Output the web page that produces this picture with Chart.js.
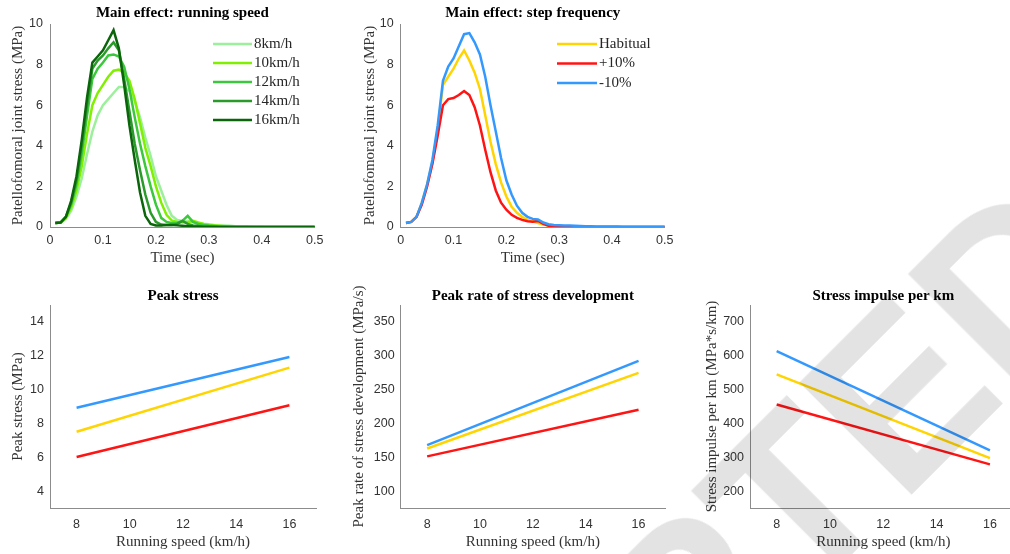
<!DOCTYPE html>
<html>
<head>
<meta charset="utf-8">
<script src="https://cdn.jsdelivr.net/npm/chart.js@4.4.0/dist/chart.umd.min.js"></script>
<style>
  html, body { margin: 0; padding: 0; background: #fff; overflow: hidden; }
  body { width: 1010px; height: 554px; position: relative; }
  .panel { position: absolute; }
  #wm {
    position: absolute; left: 95px; top: 1037px;
    transform-origin: 0 0; transform: rotate(-45deg);
    font: bold 230px "Liberation Sans", Arial, sans-serif; line-height: 1;
    color: rgba(0, 0, 0, 0.11); white-space: nowrap; pointer-events: none; z-index: 5;
  }
</style>
</head>
<body>
<div class="panel" style="left:0;top:0;width:330px;height:270px"><canvas id="chart1"></canvas></div>
<div class="panel" style="left:340px;top:0;width:340px;height:270px"><canvas id="chart2"></canvas></div>
<div class="panel" style="left:0;top:280px;width:330px;height:274px"><canvas id="chart3"></canvas></div>
<div class="panel" style="left:340px;top:280px;width:340px;height:274px"><canvas id="chart4"></canvas></div>
<div class="panel" style="left:680px;top:280px;width:350px;height:274px"><canvas id="chart5"></canvas></div>
<div id="wm">ACCEPTED</div>
<script>
// time samples (sec)
const time = [0.01, 0.02, 0.03, 0.04, 0.05, 0.06, 0.07, 0.08, 0.09, 0.10,
              0.11, 0.12, 0.13, 0.14, 0.15, 0.16, 0.17, 0.18, 0.19, 0.20,
              0.21, 0.22, 0.23, 0.24, 0.25, 0.26, 0.27, 0.28, 0.29, 0.30,
              0.31, 0.32, 0.33, 0.34, 0.35, 0.36, 0.37, 0.38, 0.39, 0.40,
              0.41, 0.42, 0.43, 0.44, 0.45, 0.46, 0.47, 0.48, 0.49, 0.50];

// PFJ stress by running speed (MPa)
const speedLabels = ['8km/h', '10km/h', '12km/h', '14km/h', '16km/h'];
const s8 = [0.2, 0.22, 0.4, 0.8, 1.5, 2.4, 3.6, 4.7, 5.5, 6.0,
            6.3, 6.6, 6.9, 6.9, 6.7, 6.2, 5.4, 4.4, 3.5, 2.5,
            1.8, 1.1, 0.55, 0.35, 0.3, 0.27, 0.24, 0.2, 0.16, 0.13,
            0.1, 0.08, 0.07, 0.06, 0.04, 0.03, 0.02, 0.02, 0.01, 0.01,
            0, 0, 0, 0, 0, 0, 0, 0, 0, 0];
const s10 = [0.2, 0.22, 0.45, 0.95, 1.8, 3.0, 4.6, 6.0, 6.6, 7.0,
             7.4, 7.7, 7.75, 7.6, 7.2, 6.3, 5.1, 3.9, 3.0, 2.0,
             1.2, 0.6, 0.32, 0.25, 0.22, 0.25, 0.3, 0.22, 0.15, 0.1,
             0.08, 0.06, 0.04, 0.03, 0.02, 0.01, 0.01, 0, 0, 0,
             0, 0, 0, 0, 0, 0, 0, 0, 0, 0];
const s12 = [0.2, 0.22, 0.5, 1.1, 2.1, 3.6, 5.5, 7.3, 7.8, 8.1,
             8.45, 8.5, 8.4, 7.9, 6.8, 5.4, 4.1, 3.0, 2.0, 1.1,
             0.45, 0.25, 0.2, 0.2, 0.3, 0.55, 0.25, 0.15, 0.1, 0.07,
             0.05, 0.03, 0.02, 0.01, 0, 0, 0, 0, 0, 0,
             0, 0, 0, 0, 0, 0, 0, 0, 0, 0];
const s14 = [0.2, 0.22, 0.5, 1.2, 2.3, 4.0, 6.0, 7.8, 8.2, 8.45,
             8.8, 9.1, 8.7, 7.3, 5.7, 4.1, 2.8, 1.6, 0.7, 0.25,
             0.12, 0.1, 0.1, 0.15, 0.3, 0.15, 0.08, 0.05, 0.03, 0.02,
             0.01, 0, 0, 0, 0, 0, 0, 0, 0, 0,
             0, 0, 0, 0, 0, 0, 0, 0, 0, 0];
const s16 = [0.2, 0.22, 0.5, 1.3, 2.5, 4.3, 6.4, 8.1, 8.4, 8.7,
             9.2, 9.7, 8.8, 7.0, 5.0, 3.3, 1.7, 0.55, 0.15, 0.08,
             0.08, 0.1, 0.1, 0.08, 0.06, 0.04, 0.02, 0.01, 0, 0,
             0, 0, 0, 0, 0, 0, 0, 0, 0, 0,
             0, 0, 0, 0, 0, 0, 0, 0, 0, 0];

// PFJ stress by step frequency (MPa)
const freqLabels = ['Habitual', '+10%', '-10%'];
const habitual = [0.2, 0.25, 0.5, 1.2, 2.1, 3.2, 4.8, 7.0, 7.4, 7.8,
                  8.3, 8.7, 8.2, 7.6, 6.8, 5.5, 4.2, 3.1, 2.2, 1.5,
                  1.0, 0.7, 0.5, 0.35, 0.28, 0.2, 0.12, 0.06, 0.04, 0.03,
                  0.02, 0.01, 0.01, 0, 0, 0, 0, 0, 0, 0,
                  0, 0, 0, 0, 0, 0, 0, 0, 0, 0];
const plus10 = [0.2, 0.25, 0.5, 1.1, 2.0, 3.1, 4.5, 6.0, 6.3, 6.35,
                6.5, 6.7, 6.5, 5.9, 5.0, 3.8, 2.7, 1.8, 1.2, 0.85,
                0.6, 0.45, 0.35, 0.28, 0.26, 0.3, 0.15, 0.06, 0.03, 0.02,
                0.01, 0, 0, 0, 0, 0, 0, 0, 0, 0,
                0, 0, 0, 0, 0, 0, 0, 0, 0, 0];
const minus10 = [0.2, 0.25, 0.5, 1.2, 2.1, 3.3, 5.0, 7.2, 7.9, 8.3,
                 8.9, 9.5, 9.55, 9.1, 8.5, 7.4, 6.0, 4.7, 3.4, 2.3,
                 1.6, 1.05, 0.7, 0.5, 0.4, 0.37, 0.22, 0.14, 0.1, 0.09,
                 0.08, 0.07, 0.06, 0.05, 0.04, 0.04, 0.03, 0.03, 0.02, 0.02,
                 0.02, 0.01, 0.01, 0.01, 0.01, 0.01, 0.01, 0.01, 0.01, 0.01];

// summary lines vs running speed
const speed = [8, 16];
const speedTicks = [8, 10, 12, 14, 16];
const peakHab = [7.51, 11.3];
const peakP10 = [6.01, 9.07];
const peakM10 = [8.93, 11.93];
const rateHab = [163, 274.6];
const rateP10 = [151.3, 220.3];
const rateM10 = [168, 292.3];
const impHab = [545, 297.6];
const impP10 = [456, 279];
const impM10 = [614, 320];
const peakTicks = [4, 6, 8, 10, 12, 14];
const rateTicks = [100, 150, 200, 250, 300, 350];
const impTicks = [200, 300, 400, 500, 600, 700];

const SERIF = '"Liberation Serif", "Times New Roman", serif';
const SANS = '"Liberation Sans", Arial, sans-serif';
const greens = ['#9cf09c', '#80f000', '#3cc83c', '#2a9a2a', '#0b650b'];
const YEL = '#ffd400', RED = '#ff1414', BLUE = '#3399ff';

function xy(xs, ys) {
    return xs.map((x, i) => ({ x: x, y: ys[i] }));
}

function line(label, xs, ys, color, order) {
    return {
        label: label,
        data: xy(xs, ys),
        borderColor: color,
        backgroundColor: color,
        borderWidth: 2.5,
        pointRadius: 0,
        tension: 0,
        fill: false,
        order: order
    };
}

// legend drawn inside the plot area, MATLAB style
const boxLegend = {
    id: 'boxLegend',
    afterDatasetsDraw(chart, args, opts) {
        const ctx = chart.ctx;
        ctx.save();
        ctx.font = '15px ' + SERIF;
        ctx.textBaseline = 'middle';
        ctx.textAlign = 'left';
        chart.data.datasets.forEach((ds, i) => {
            const y = opts.y + i * opts.dy;
            ctx.strokeStyle = ds.borderColor;
            ctx.lineWidth = 2.5;
            ctx.beginPath();
            ctx.moveTo(opts.x, y);
            ctx.lineTo(opts.x + opts.len, y);
            ctx.stroke();
            ctx.fillStyle = '#262626';
            ctx.fillText(ds.label, opts.x + opts.len + 2, y);
        });
        ctx.restore();
    }
};

function options(o) {
    const fixTicks = list => (list ? s => { s.ticks = list.map(v => ({ value: v })); } : undefined);
    return {
        responsive: true,
        maintainAspectRatio: false,
        animation: false,
        layout: { padding: { left: 0, right: o.padRight, top: 0, bottom: 0 } },
        plugins: {
            legend: { display: false },
            tooltip: { enabled: false },
            title: {
                display: true,
                text: o.title,
                fullSize: false,
                color: '#000',
                font: { family: SERIF, size: 15, weight: 'bold' },
                padding: { top: o.titleTop, bottom: o.titleBottom }
            },
            boxLegend: o.legend
        },
        scales: {
            x: {
                type: 'linear',
                min: o.xMin, max: o.xMax,
                grid: { display: false, drawTicks: false },
                border: { display: true, color: '#8c8c8c', width: 1 },
                ticks: { stepSize: o.xStep, padding: o.xTickPad, color: '#333', font: { family: SANS, size: 12.5 }, maxRotation: 0, autoSkip: false },
                afterBuildTicks: fixTicks(o.xTicks),
                afterFit: s => { s.height = o.bottom; },
                title: { display: true, text: o.xTitle, color: '#333', font: { family: SERIF, size: 15 }, padding: { top: 0, bottom: o.xTitlePad } }
            },
            y: {
                min: o.yMin, max: o.yMax,
                grid: { display: false, drawTicks: false },
                border: { display: true, color: '#8c8c8c', width: 1 },
                ticks: { stepSize: o.yStep, padding: o.yTickPad, color: '#333', font: { family: SANS, size: 12.5 }, autoSkip: false },
                afterBuildTicks: fixTicks(o.yTicks),
                afterFit: s => { s.width = o.left; },
                title: { display: true, text: o.yTitle, color: '#333', font: { family: SERIF, size: 15 }, padding: { top: o.yTitlePad, bottom: 0 } }
            }
        }
    };
}

document.addEventListener('DOMContentLoaded', function () {

    new Chart(document.getElementById('chart1'), {
        type: 'line',
        data: {
            datasets: [
                line(speedLabels[0], time, s8, greens[0], 4),
                line(speedLabels[1], time, s10, greens[1], 3),
                line(speedLabels[2], time, s12, greens[2], 2),
                line(speedLabels[3], time, s14, greens[3], 1),
                line(speedLabels[4], time, s16, greens[4], 0)
            ]
        },
        options: options({
            title: 'Main effect: running speed', titleTop: 4.5, titleBottom: 1.5,
            padRight: 14, left: 50, bottom: 43,
            xMin: 0, xMax: 0.5, xStep: 0.1, xTickPad: 6.5, xTitle: 'Time (sec)', xTitlePad: 3,
            yMin: 0, yMax: 10, yStep: 2, yTickPad: 7, yTitle: 'Patellofomoral joint stress (MPa)', yTitlePad: 9.3,
            legend: { x: 213, len: 39, y: 44, dy: 19 }
        }),
        plugins: [boxLegend]
    });

    new Chart(document.getElementById('chart2'), {
        type: 'line',
        data: {
            datasets: [
                line(freqLabels[0], time, habitual, YEL, 2),
                line(freqLabels[1], time, plus10, RED, 1),
                line(freqLabels[2], time, minus10, BLUE, 0)
            ]
        },
        options: options({
            title: 'Main effect: step frequency', titleTop: 4.5, titleBottom: 1.5,
            padRight: 15, left: 60.7, bottom: 43,
            xMin: 0, xMax: 0.5, xStep: 0.1, xTickPad: 6.5, xTitle: 'Time (sec)', xTitlePad: 3,
            yMin: 0, yMax: 10, yStep: 2, yTickPad: 7, yTitle: 'Patellofomoral joint stress (MPa)', yTitlePad: 21,
            legend: { x: 217, len: 40, y: 44, dy: 19.5 }
        }),
        plugins: [boxLegend]
    });

    new Chart(document.getElementById('chart3'), {
        type: 'line',
        data: {
            datasets: [
                line(freqLabels[0], speed, peakHab, YEL, 2),
                line(freqLabels[1], speed, peakP10, RED, 1),
                line(freqLabels[2], speed, peakM10, BLUE, 0)
            ]
        },
        options: options({
            title: 'Peak stress', titleTop: 7, titleBottom: 0,
            padRight: 14, left: 50, bottom: 46,
            xMin: 7, xMax: 17, xTicks: speedTicks, xTickPad: 9.2, xTitle: 'Running speed (km/h)', xTitlePad: 3.3,
            yMin: 3, yMax: 15, yTicks: peakTicks, yTickPad: 6, yTitle: 'Peak stress (MPa)', yTitlePad: 9.3
        })
    });

    new Chart(document.getElementById('chart4'), {
        type: 'line',
        data: {
            datasets: [
                line(freqLabels[0], speed, rateHab, YEL, 2),
                line(freqLabels[1], speed, rateP10, RED, 1),
                line(freqLabels[2], speed, rateM10, BLUE, 0)
            ]
        },
        options: options({
            title: 'Peak rate of stress development', titleTop: 7, titleBottom: 0,
            padRight: 15, left: 60.7, bottom: 46,
            xMin: 7, xMax: 17, xTicks: speedTicks, xTickPad: 9.2, xTitle: 'Running speed (km/h)', xTitlePad: 3.3,
            yMin: 75, yMax: 375, yTicks: rateTicks, yTickPad: 6, yTitle: 'Peak rate of stress development (MPa/s)', yTitlePad: 10
        })
    });

    new Chart(document.getElementById('chart5'), {
        type: 'line',
        data: {
            datasets: [
                line(freqLabels[0], speed, impHab, YEL, 2),
                line(freqLabels[1], speed, impP10, RED, 1),
                line(freqLabels[2], speed, impM10, BLUE, 0)
            ]
        },
        options: options({
            title: 'Stress impulse per km', titleTop: 7, titleBottom: 0,
            padRight: 13.4, left: 70, bottom: 46,
            xMin: 7, xMax: 17, xTicks: speedTicks, xTickPad: 9.2, xTitle: 'Running speed (km/h)', xTitlePad: 3.3,
            yMin: 150, yMax: 750, yTicks: impTicks, yTickPad: 6, yTitle: 'Stress impulse per km (MPa*s/km)', yTitlePad: 22.7
        })
    });
});
</script>
</body>
</html>
